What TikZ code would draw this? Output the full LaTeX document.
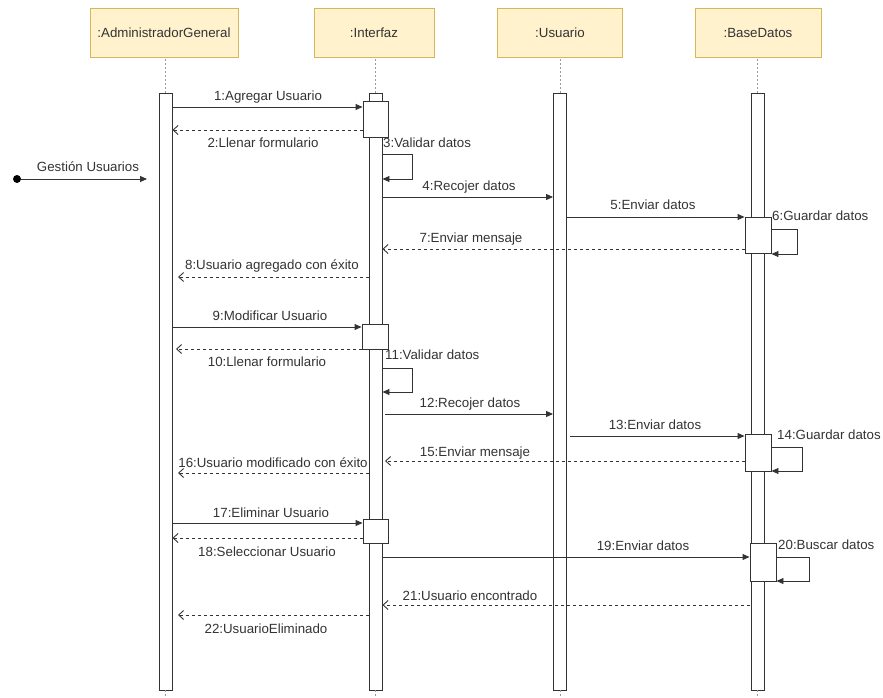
\documentclass[tikz,border=0pt]{standalone}
\usepackage{fontspec}
\setmainfont{Liberation Sans}
\usetikzlibrary{arrows.meta}
\definecolor{headfill}{HTML}{FFF2CC}
\definecolor{headline}{HTML}{D6B656}
\definecolor{ink}{HTML}{333333}
\definecolor{lifegray}{HTML}{9A9A9A}
\begin{document}
\begin{tikzpicture}[x=1pt,y=-1pt,
  every node/.style={font=\fontsize{13.3}{15}\selectfont, text=ink, inner sep=0pt},
  header/.style={draw=headline, fill=headfill, line width=0.8pt, minimum height=49pt},
  bar/.style={draw=ink, fill=white, line width=0.9pt, minimum width=13pt},
  act/.style={draw=ink, fill=white, line width=0.9pt},
  lifeline/.style={draw=lifegray, line width=0.7pt, dash pattern=on 2pt off 2pt},
  call/.style={draw=ink, line width=0.9pt, -{Triangle[length=7pt,width=6pt]}},
  reply/.style={draw=ink, line width=0.9pt, dash pattern=on 3pt off 3pt,
                -{Straight Barb[length=5pt,width=9pt]}},
  lbl/.style={anchor=base},
  lblw/.style={anchor=base west},
]
\useasboundingbox (0,0) rectangle (883,698);

% participants
\node[header, minimum width=148pt] (hAdmin) at (164,32.5) {:AdministradorGeneral};
\node[header, minimum width=120pt] (hInt)   at (374,32.5) {:Interfaz};
\node[header, minimum width=125pt] (hUsu)   at (560,32.5) {:Usuario};
\node[header, minimum width=126pt] (hBD)    at (758,32.5) {:BaseDatos};

% lifeline bars
\node[bar, minimum height=597pt] (bAdmin) at (165.5,391.5) {};
\node[bar, minimum height=597pt] (bInt)   at (375.5,391.5) {};
\node[bar, minimum height=597pt] (bUsu)   at (560,391.5) {};
\node[bar, minimum height=597pt] (bBD)    at (757.5,391.5) {};

\foreach \h/\b in {hAdmin/bAdmin, hInt/bInt, hUsu/bUsu, hBD/bBD}{
  \draw[lifeline] (\b.north) -- (\b.north |- \h.south);
  \draw[lifeline] (\b.south) -- ++(0,8);
}

% activation boxes
\node[act, minimum width=25pt, minimum height=36pt] (aI1) at (375.5,119) {};
\node[act, minimum width=26pt, minimum height=25pt] (aI2) at (375,336.5) {};
\node[act, minimum width=25pt, minimum height=24pt] (aI3) at (375.5,531) {};
\node[act, minimum width=26pt, minimum height=36pt] (aB1) at (758,235) {};
\node[act, minimum width=26pt, minimum height=37pt] (aB2) at (758,452.5) {};
\node[act, minimum width=26pt, minimum height=38pt] (aB3) at (763,562) {};

% entry point
\node[circle, fill=black, minimum size=8pt] (start) at (17,179) {};
\coordinate (gestEnd) at (147,179);
\draw[call] (start) -- (gestEnd);
\node[lbl] (lGest) at (88,171.5) {Gestión Usuarios};

% alta de usuario
\draw[call]  (bAdmin.east |- 0,107) -- (aI1.west |- 0,107);
\node[lbl] (l1) at (268,100.5) {1:Agregar Usuario};
\draw[reply] (aI1.west |- 0,130) -- (bAdmin.east |- 0,130);
\node[lbl] (l2) at (263,147.5) {2:Llenar formulario};
\draw[call]  (bInt.east |- 0,154) -- (412,154) -- (412,179) -- (bInt.east |- 0,179);
\node[lblw] (l3) at (383,147.5) {3:Validar datos};
\draw[call]  (bInt.east |- 0,197) -- (bUsu.west |- 0,197);
\node[lbl] (l4) at (469,190.5) {4:Recojer datos};
\draw[call]  (bUsu.east |- 0,217) -- (aB1.west |- 0,217);
\node[lbl] (l5) at (653,209.5) {5:Enviar datos};
\draw[call]  (aB1.east |- 0,229) -- (797,229) -- (797,254) -- (aB1.east |- 0,254);
\node[lblw] (l6) at (772,220.5) {6:Guardar datos};
\draw[reply] (aB1.west |- 0,249) -- (bInt.east |- 0,249);
\node[lbl] (l7) at (471,242.5) {7:Enviar mensaje};
\draw[reply] (bInt.west |- 0,277) -- (178,277);
\node[lbl] (l8) at (272,269.5) {8:Usuario agregado con éxito};

% modificación de usuario
\draw[call]  (bAdmin.east |- 0,327) -- (aI2.west |- 0,327);
\node[lbl] (l9) at (270,320.5) {9:Modificar Usuario};
\draw[reply] (aI2.west |- 0,349) -- (176,349);
\node[lbl] (l10) at (267,366.5) {10:Llenar formulario};
\draw[call]  (bInt.east |- 0,368) -- (412,368) -- (412,392) -- (bInt.east |- 0,392);
\node[lblw] (l11) at (385,359.5) {11:Validar datos};
\draw[call]  (385,414) -- (bUsu.west |- 0,414);
\node[lbl] (l12) at (470,407.5) {12:Recojer datos};
\draw[call]  (570,436) -- (aB2.west |- 0,436);
\node[lbl] (l13) at (655,429.5) {13:Enviar datos};
\draw[call]  (aB2.east |- 0,447) -- (802,447) -- (802,471) -- (aB2.east |- 0,471);
\node[lblw] (l14) at (777,439.5) {14:Guardar datos};
\draw[reply] (aB2.west |- 0,461) -- (385,461);
\node[lbl] (l15) at (475,456.5) {15:Enviar mensaje};
\draw[reply] (bInt.west |- 0,473) -- (178,473);
\node[lbl] (l16) at (273,467.5) {16:Usuario modificado con éxito};

% eliminación de usuario
\draw[call]  (bAdmin.east |- 0,523) -- (aI3.west |- 0,523);
\node[lbl] (l17) at (271,517.5) {17:Eliminar Usuario};
\draw[reply] (aI3.west |- 0,538) -- (bAdmin.east |- 0,538);
\node[lbl] (l18) at (267,556.5) {18:Seleccionar Usuario};
\draw[call]  (bInt.east |- 0,557) -- (aB3.west |- 0,557);
\node[lbl] (l19) at (643,550.5) {19:Enviar datos};
\draw[call]  (aB3.east |- 0,557) -- (809,557) -- (809,581) -- (aB3.east |- 0,581);
\node[lblw] (l20) at (778,549.5) {20:Buscar datos};
\draw[reply] (aB3.west |- 0,605) -- (bInt.east |- 0,605);
\node[lbl] (l21) at (470,600.5) {21:Usuario encontrado};
\draw[reply] (bInt.west |- 0,615) -- (178,615);
\node[lbl] (l22) at (266,633.5) {22:UsuarioEliminado};
\end{tikzpicture}
\end{document}
